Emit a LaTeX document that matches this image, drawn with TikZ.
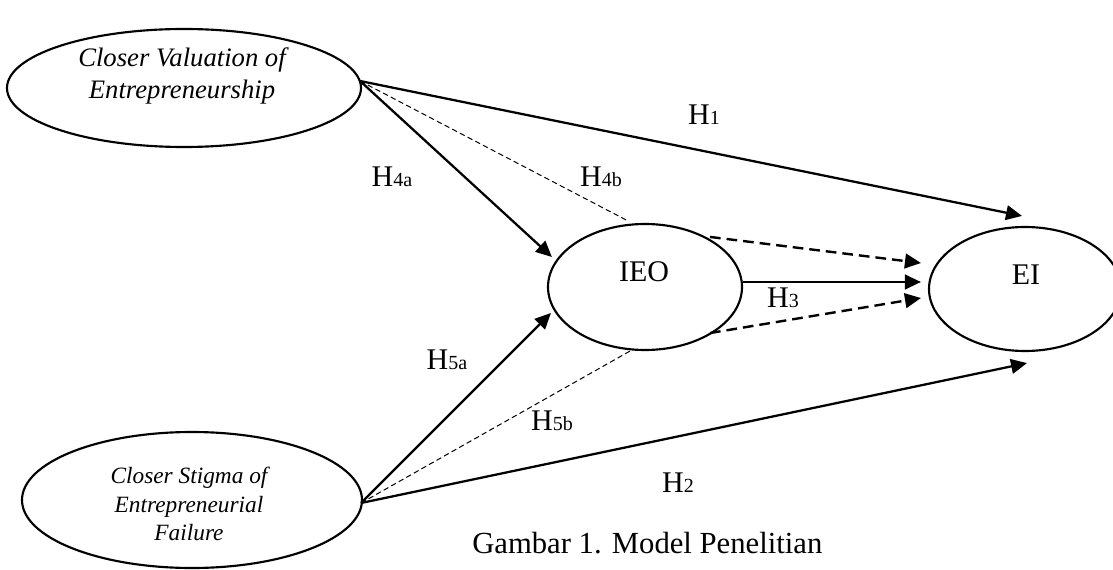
\documentclass[tikz,border=0pt]{standalone}
\usepackage{fontspec}
\setmainfont{Liberation Serif}
\usetikzlibrary{arrows.meta,shapes.geometric}
\newcommand\hyp[1]{H{\fontsize{15pt}{15pt}\selectfont #1}}
\begin{document}
\begin{tikzpicture}[x=0.75pt,y=-0.75pt,
  oval/.style={ellipse,draw,line width=1.6pt,inner sep=0pt},
  solidarrow/.style={line width=1.7pt,-{Triangle[length=12pt,width=11pt]}},
  dasharrow/.style={line width=1.8pt,dash pattern=on 8pt off 4.5pt,-{Triangle[length=12pt,width=11pt]}},
  thindash/.style={line width=0.75pt,dash pattern=on 4pt off 2.5pt},
  lbl/.style={inner sep=0pt,font=\fontsize{22.5pt}{27pt}\selectfont},
  ovaltext/.style={inner sep=0pt,align=center}
]
\useasboundingbox (0,0) rectangle (1113,570);
% ellipses
\node[oval,minimum width=265.5pt,minimum height=88.5pt] (cv) at (184,88) {};
\node[oval,minimum width=255pt,minimum height=102pt] (cs) at (192,500) {};
\node[oval,minimum width=145.5pt,minimum height=94.5pt] (ieo) at (645,287) {};
\node[oval,minimum width=144pt,minimum height=93pt] (ei) at (1025,289) {};
% texts in ellipses
\node[ovaltext,font=\itshape\fontsize{20pt}{24.5pt}\selectfont] (cvt) at (182,76) {Closer Valuation of\\Entrepreneurship};
\node[ovaltext,font=\itshape\fontsize{17.5pt}{21.4pt}\selectfont] (cst) at (189,504) {Closer Stigma of\\Entrepreneurial\\Failure};
\node[lbl] (ieot) at (644,272) {IEO};
\node[lbl] (eit) at (1026,275) {EI};
% connectors
\draw[solidarrow] ([shift={(-2,-7)}]cv.east) -- ([shift={(-3,-10)}]ei.north);
\draw[solidarrow] ([shift={(-2,-7)}]cv.east) -- ([shift={(5,-30)}]ieo.west);
\draw[thindash] ([shift={(-2,-7)}]cv.east) -- ([shift={(-17,-2)}]ieo.north);
\draw[solidarrow] ([shift={(-2,3)}]cs.east) -- ([shift={(4,26)}]ieo.west);
\draw[thindash] ([shift={(-2,3)}]cs.east) -- ([shift={(-15,0)}]ieo.south);
\draw[solidarrow] ([shift={(-2,3)}]cs.east) -- ([shift={(2,11)}]ei.south);
\draw[dasharrow] ([shift={(65,14)}]ieo.north) -- ([shift={(-7,-26)}]ei.west);
\draw[solidarrow] ([shift={(0,-5)}]ieo.east) -- ([shift={(-7,-7)}]ei.west);
\draw[dasharrow] ([shift={(65,-18)}]ieo.south) -- ([shift={(-7,9)}]ei.west);
% labels
\node[lbl] (h1) at (704,115) {\hyp{1}};
\node[lbl] (h4a) at (392,177) {\hyp{4a}};
\node[lbl] (h4b) at (601,177) {\hyp{4b}};
\node[lbl] (h3) at (783,298) {\hyp{3}};
\node[lbl] (h5a) at (447,360) {\hyp{5a}};
\node[lbl] (h5b) at (552,421) {\hyp{5b}};
\node[lbl] (h2) at (678,483) {\hyp{2}};
\node[lbl,anchor=base west,font=\fontsize{23pt}{27pt}\selectfont] (cap) at (472,553) {Gambar 1. Model Penelitian};
\end{tikzpicture}
\end{document}
